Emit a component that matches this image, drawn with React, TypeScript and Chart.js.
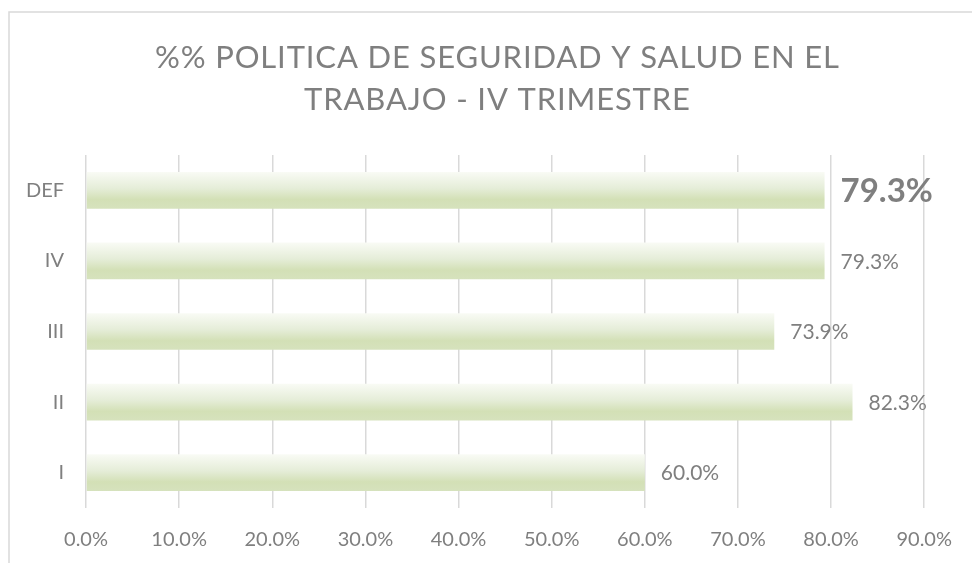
import React, { useEffect, useRef } from "react";
import { Chart, registerables } from "chart.js";

Chart.register(...registerables);

const TITLE_LINES = ["%% POLITICA DE SEGURIDAD Y SALUD EN EL", "TRABAJO - IV TRIMESTRE"];
const CATEGORIES = ["I", "II", "III", "IV", "DEF"];
const VALUES = [60.0, 82.3, 73.9, 79.3, 79.3];
const X_MIN = 0;
const X_MAX = 90;
const X_STEP = 10;
const HIGHLIGHT_INDEX = 4;

const TEXT_COLOR = "#7f7f7f";
const GRID_COLOR = "#d9d9d9";
const FONT = "Lato, 'Open Sans', sans-serif";
const BAR_FRACTION = 0.52;

const frameAndTitle = {
  id: "frameAndTitle",
  afterDraw(chart: any) {
    const ctx = chart.ctx;
    ctx.save();
    ctx.strokeStyle = GRID_COLOR;
    ctx.lineWidth = 1.5;
    ctx.beginPath();
    ctx.moveTo(9, 600);
    ctx.lineTo(9, 12);
    ctx.lineTo(1000, 12);
    ctx.stroke();
    ctx.fillStyle = TEXT_COLOR;
    ctx.textAlign = "center";
    ctx.textBaseline = "middle";
    ctx.font = `400 31px ${FONT}`;
    const ys = [58, 100];
    const targetWidth = 684;
    const first = TITLE_LINES[0];
    const w = ctx.measureText(first).width;
    const spacing = Math.max(0, (targetWidth - w) / (first.length - 1));
    (ctx as any).letterSpacing = `${spacing}px`;
    TITLE_LINES.forEach((line, i) => ctx.fillText(line, 497 + spacing / 2, ys[i]));
    ctx.restore();
  },
};

const valueLabels = {
  id: "valueLabels",
  afterDatasetsDraw(chart: any) {
    const ctx = chart.ctx;
    const meta = chart.getDatasetMeta(0);
    ctx.save();
    ctx.fillStyle = TEXT_COLOR;
    ctx.textAlign = "left";
    ctx.textBaseline = "middle";
    meta.data.forEach((el: any, i: number) => {
      const v = VALUES[i];
      ctx.font = i === HIGHLIGHT_INDEX ? `bold 33px ${FONT}` : `21px ${FONT}`;
      ctx.fillText(v.toFixed(1) + "%", el.x + 16, el.y + 1);
    });
    ctx.restore();
  },
};

function barFill(c: any) {
  const chart = c.chart;
  const area = chart.chartArea;
  const yScale = chart.scales.y;
  if (!area || !yScale) return "#dfe8cc";
  const center = yScale.getPixelForValue(c.dataIndex);
  const h = ((area.bottom - area.top) / CATEGORIES.length) * BAR_FRACTION;
  const g = chart.ctx.createLinearGradient(0, center - h / 2, 0, center + h / 2);
  g.addColorStop(0, "#f9fbf5");
  g.addColorStop(0.45, "#e5edd8");
  g.addColorStop(0.75, "#d3e0b6");
  g.addColorStop(1, "#d6e2bd");
  return g;
}

export default function App() {
  const ref = useRef<HTMLCanvasElement | null>(null);

  useEffect(() => {
    if (!ref.current) return;
    const chart = new Chart(ref.current, {
      type: "bar",
      data: {
        labels: CATEGORIES,
        datasets: [
          {
            data: VALUES,
            backgroundColor: barFill,
            borderWidth: 0,
            categoryPercentage: 1,
            barPercentage: BAR_FRACTION,
          },
        ],
      },
      options: {
        indexAxis: "y",
        responsive: false,
        animation: false,
        layout: { padding: { left: 0, right: 47, top: 155, bottom: 0 } },
        plugins: {
          legend: { display: false },
          title: { display: false },
          tooltip: { enabled: false },
        },
        scales: {
          x: {
            min: X_MIN,
            max: X_MAX,
            grid: { color: GRID_COLOR, lineWidth: 1.5, drawTicks: false },
            border: { display: false },
            ticks: {
              stepSize: X_STEP,
              padding: 20,
              color: TEXT_COLOR,
              font: { family: FONT, size: 20 },
              callback: (v: any) => Number(v).toFixed(1) + "%",
            },
            afterFit: (s: any) => {
              s.height = 55;
            },
          },
          y: {
            reverse: true,
            grid: { display: false, drawTicks: false },
            border: { display: false },
            ticks: {
              padding: 22,
              color: TEXT_COLOR,
              font: { family: FONT, size: 20 },
            },
            afterFit: (s: any) => {
              s.width = 86;
            },
          },
        },
      },
      plugins: [frameAndTitle, valueLabels],
    });
    return () => chart.destroy();
  }, []);

  return (
    <div style={{ position: "absolute", left: 0, top: 0, width: 972, height: 563, background: "#fff" }}>
      <canvas ref={ref} width={972} height={563} />
    </div>
  );
}
